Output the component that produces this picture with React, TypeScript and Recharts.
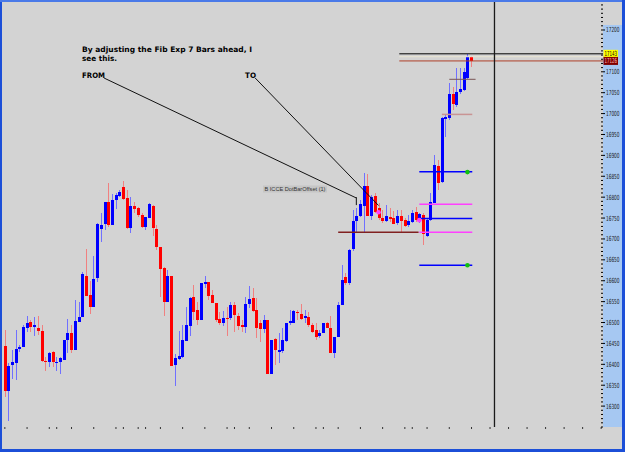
import { ComposedChart, Bar, XAxis, YAxis, ReferenceLine, ReferenceDot } from "recharts";

// bars, oldest first
const opens = [
  16444, 16337, 16398, 16404, 16436, 16442, 16488, 16502, 16490, 16488, 16480, 16409, 16405, 16430, 16402, 16406,
  16410, 16458, 16474, 16434, 16502, 16514, 16611, 16566, 16538, 16606, 16724, 16736, 16789, 16733, 16793, 16803,
  16825, 16799, 16725, 16779, 16773, 16757, 16728, 16751, 16779, 16724, 16681, 16631, 16550, 16611, 16398, 16412,
  16418, 16456, 16491, 16560, 16530, 16506, 16592, 16598, 16565, 16547, 16508, 16498, 16511, 16510, 16543, 16516,
  16495, 16490, 16544, 16558, 16530, 16499, 16484, 16507, 16377, 16460, 16430, 16432, 16456, 16498, 16500, 16524,
  16520, 16511, 16514, 16494, 16482, 16468, 16476, 16499, 16488, 16428, 16466, 16541, 16608, 16594, 16675, 16743,
  16755, 16779, 16826, 16755, 16803, 16773, 16751, 16743, 16753, 16749, 16737, 16755, 16745, 16733, 16741, 16765,
  16741, 16757, 16707, 16745, 16787, 16874, 16837, 16987, 16989, 17047, 17020, 17052, 17056, 17084, 17135,
];
const highs = [
  16483, 16402, 16434, 16482, 16446, 16494, 16516, 16506, 16514, 16515, 16494, 16418, 16430, 16432, 16418, 16418,
  16458, 16508, 16494, 16554, 16548, 16622, 16676, 16600, 16659, 16737, 16761, 16789, 16833, 16807, 16809, 16817,
  16839, 16817, 16801, 16789, 16777, 16761, 16753, 16787, 16781, 16733, 16681, 16633, 16625, 16611, 16424, 16480,
  16494, 16538, 16562, 16590, 16550, 16594, 16611, 16598, 16578, 16547, 16526, 16527, 16538, 16550, 16550, 16522,
  16506, 16562, 16587, 16582, 16558, 16507, 16518, 16507, 16458, 16462, 16474, 16486, 16498, 16530, 16530, 16530,
  16544, 16530, 16526, 16498, 16499, 16482, 16499, 16502, 16516, 16466, 16550, 16637, 16618, 16675, 16769, 16773,
  16793, 16857, 16855, 16805, 16811, 16785, 16769, 16781, 16773, 16768, 16769, 16769, 16749, 16757, 16769, 16777,
  16763, 16761, 16749, 16809, 16901, 16889, 16991, 16997, 17072, 17064, 17108, 17108, 17108, 17143, 17138,
];
const lows = [
  16322, 16265, 16364, 16362, 16430, 16442, 16478, 16478, 16468, 16470, 16406, 16385, 16394, 16394, 16385, 16378,
  16410, 16426, 16428, 16434, 16502, 16514, 16563, 16520, 16538, 16598, 16693, 16721, 16729, 16733, 16771, 16801,
  16793, 16723, 16715, 16761, 16753, 16725, 16721, 16750, 16707, 16673, 16562, 16516, 16550, 16397, 16349, 16410,
  16416, 16456, 16467, 16506, 16494, 16506, 16582, 16554, 16546, 16502, 16494, 16492, 16467, 16506, 16478, 16482,
  16478, 16474, 16534, 16526, 16462, 16454, 16474, 16377, 16377, 16398, 16404, 16428, 16454, 16494, 16498, 16506,
  16506, 16498, 16490, 16474, 16458, 16462, 16474, 16486, 16426, 16414, 16466, 16541, 16590, 16590, 16672, 16717,
  16753, 16717, 16755, 16745, 16763, 16745, 16737, 16741, 16741, 16735, 16733, 16717, 16729, 16729, 16739, 16741,
  16737, 16685, 16705, 16744, 16785, 16817, 16833, 16945, 16985, 17008, 17016, 17048, 17055, 17082, 17112,
];
const closes = [
  16337, 16397, 16406, 16436, 16441, 16490, 16498, 16490, 16494, 16480, 16409, 16406, 16428, 16406, 16406, 16414,
  16458, 16474, 16434, 16503, 16514, 16615, 16563, 16538, 16604, 16735, 16733, 16789, 16733, 16793, 16805, 16813,
  16795, 16725, 16779, 16772, 16757, 16728, 16753, 16783, 16725, 16680, 16628, 16550, 16611, 16397, 16416, 16420,
  16458, 16494, 16559, 16526, 16506, 16594, 16596, 16563, 16547, 16506, 16498, 16512, 16509, 16542, 16518, 16492,
  16490, 16544, 16556, 16528, 16486, 16485, 16506, 16377, 16458, 16434, 16434, 16458, 16498, 16503, 16527, 16522,
  16509, 16515, 16494, 16478, 16466, 16476, 16499, 16488, 16428, 16466, 16541, 16602, 16594, 16673, 16743, 16755,
  16783, 16826, 16755, 16801, 16765, 16749, 16743, 16756, 16747, 16736, 16755, 16743, 16731, 16744, 16763, 16745,
  16759, 16713, 16745, 16789, 16877, 16835, 16989, 16993, 17048, 17023, 17052, 17058, 17100, 17135, 17126,
];

const SLOTS = 162; // bars + empty space to the right
const xTicks = [0, 6, 12, 14, 18, 24, 30, 32, 36, 38, 42, 48, 54, 60, 62, 66, 72, 78, 84, 86, 90, 96, 102, 108, 110, 114, 120, 126, 131, 136, 141, 146, 151, 156, 161];
const majorTicks = [16300, 16350, 16400, 16450, 16500, 16550, 16600, 16650, 16700, 16750, 16800, 16850, 16900, 16950, 17000, 17050, 17100, 17200];
const markerLabels = [
  { value: 17143, fill: "#ffff00", text: "#000000" },
  { value: 17126, fill: "#800000", text: "#ffb8b8" },
];

// drawn objects on the chart, in bar index / price units
const levelLines = [
  { price: 17143, from: 106.5, to: 161.5, color: "#000000", w: 1 },
  { price: 17136, from: 106.5, to: 161.5, color: "#ebe5d2", w: 1 },
  { price: 17126, from: 106.5, to: 161.5, color: "#b0402a", w: 1 },
  { price: 17082, from: 120, to: 127.1, color: "#7a5656", w: 1 },
  { price: 16998, from: 118, to: 126.2, color: "#c99494", w: 1.5 },
  { price: 16861, from: 111.9, to: 126.2, color: "#0000ff", w: 1.5 },
  { price: 16783, from: 111.9, to: 126.2, color: "#ff40ff", w: 1.5 },
  { price: 16749, from: 111.9, to: 126.2, color: "#0000ff", w: 1.5 },
  { price: 16716, from: 90, to: 111.7, color: "#802020", w: 1.5 },
  { price: 16716, from: 111.9, to: 126.2, color: "#ff40ff", w: 1.5 },
  { price: 16637, from: 111.9, to: 126.2, color: "#0000ff", w: 1.5 },
];
const pointerLines = [
  { x1: 26.8, p1: 17085, x2: 94.9, p2: 16798 },
  { x1: 67.6, p1: 17085, x2: 100.9, p2: 16780 },
  { x1: 94.9, p1: 16800, x2: 94.9, p2: 16781 },
];
const dots = [
  { x: 100.9, p: 16764, color: "#ff40ff" },
  { x: 111.9, p: 16745, color: "#ff40ff" },
  { x: 124.9, p: 16860, color: "#10c010" },
  { x: 124.9, p: 16637, color: "#10c010" },
];
const cursorX = 132.2;

const minorTicks: number[] = [];
for (let v = 16250; v <= 17260; v += 10) if (!majorTicks.includes(v)) minorTicks.push(v);
const yTicks = [...minorTicks, ...majorTicks, ...markerLabels.map((m) => m.value)];

const data = Array.from({ length: SLOTS }, (_, i) =>
  i < opens.length
    ? { i, o: opens[i], h: highs[i], l: lows[i], c: closes[i], range: [lows[i], highs[i]] }
    : { i, range: null }
);

function Candle(props: any) {
  const { x, y, width, height, payload } = props;
  if (!payload || payload.o == null) return null;
  const { o, h, l, c } = payload;
  const top = Math.min(y, y + height);
  const bot = Math.max(y, y + height);
  const ppu = (bot - top) / (h - l || 1);
  const py = (v: number) => top + (h - v) * ppu;
  const up = c >= o;
  const cx = Math.round(x + width / 2) + 0.5;
  const bTop = py(Math.max(o, c));
  const bH = Math.max(1, py(Math.min(o, c)) - bTop);
  return (
    <g shapeRendering="crispEdges">
      <line x1={cx} x2={cx} y1={top} y2={bot} stroke={up ? "#7070ff" : "#f08080"} strokeWidth={1} />
      <rect x={cx - 1.5} y={bTop} width={3} height={bH} fill={up ? "#0000ff" : "#ff0000"} />
    </g>
  );
}

function PriceTick(props: any) {
  const { x, y, payload } = props;
  const v = payload.value;
  const mark = markerLabels.find((m) => m.value === v);
  const font = { fontFamily: "'Liberation Sans Narrow', 'DejaVu Sans Condensed', Arial, sans-serif", fontSize: 7 };
  if (mark) {
    return (
      <g>
        <rect x={x + 0.5} y={y - 4} width={14.5} height={8} fill={mark.fill} />
        <text x={x + 1.5} y={y + 2.5} fill={mark.text} textLength={12.5} lengthAdjust="spacingAndGlyphs" {...font}>
          {v}
        </text>
      </g>
    );
  }
  if (majorTicks.includes(v)) {
    return (
      <g>
        <line x1={x - 2} x2={x + 2} y1={y} y2={y} stroke="#000" strokeWidth={1} />
        <text x={x + 3} y={y + 2.5} fill="#1a1a1a" textLength={13.5} lengthAdjust="spacingAndGlyphs" {...font}>
          {v}
        </text>
      </g>
    );
  }
  return <line x1={x - 2} x2={x} y1={y} y2={y} stroke="#000" strokeWidth={1} />;
}

export default function App() {
  const bold = { fontFamily: "'DejaVu Sans', Verdana, sans-serif", fontSize: 7.5, fontWeight: 700, fill: "#000" };
  return (
    <div style={{ position: "absolute", left: 0, top: 0, width: 625, height: 452, background: "#d3d3d3", overflow: "hidden" }}>
      <style>{`body{margin:0}`}</style>
      <div style={{ position: "absolute", left: 603, top: 25, width: 19, height: 402, background: "#a6c8f2" }} />
      <div style={{ position: "absolute", left: 0, top: 0 }}>
        <ComposedChart width={625} height={452} data={data} margin={{ top: 2, right: 3, bottom: 22, left: 3 }}>
          <XAxis
            dataKey="i"
            type="category"
            ticks={xTicks}
            interval={0}
            height={3}
            axisLine={false}
            tickSize={2}
            tickLine={{ stroke: "#333" }}
            tickFormatter={() => ""}
          />
          <XAxis xAxisId="n" dataKey="i" type="number" domain={[-0.5, SLOTS - 0.5]} allowDataOverflow hide />
          <YAxis
            orientation="right"
            width={19}
            type="number"
            domain={[16250, 17267]}
            allowDataOverflow
            ticks={yTicks}
            interval={0}
            axisLine={false}
            tickLine={false}
            tickSize={0}
            tickMargin={0}
            tick={<PriceTick />}
          />
          <Bar dataKey="range" barSize={3} shape={<Candle />} isAnimationActive={false} />
          {levelLines.map((ln, k) => (
            <ReferenceLine
              key={"lv" + k}
              xAxisId="n"
              segment={[{ x: ln.from, y: ln.price }, { x: ln.to, y: ln.price }]}
              stroke={ln.color}
              strokeWidth={ln.w}
              ifOverflow="visible"
            />
          ))}
          {pointerLines.map((ln, k) => (
            <ReferenceLine
              key={"pt" + k}
              xAxisId="n"
              segment={[{ x: ln.x1, y: ln.p1 }, { x: ln.x2, y: ln.p2 }]}
              stroke="#111"
              strokeWidth={1}
              ifOverflow="visible"
            />
          ))}
          <ReferenceLine xAxisId="n" x={cursorX} stroke="#1a1a1a" strokeWidth={1.3} />
          {dots.map((d, k) => (
            <ReferenceDot key={"d" + k} xAxisId="n" x={d.x} y={d.p} r={2.3} fill={d.color} stroke="none" />
          ))}
        </ComposedChart>
      </div>
      <svg width={625} height={452} style={{ position: "absolute", left: 0, top: 0, pointerEvents: "none" }}>
        <text x={82} y={52} textLength={170} lengthAdjust="spacingAndGlyphs" {...bold}>
          By adjusting the Fib Exp 7 Bars ahead, I
        </text>
        <text x={82} y={61} textLength={35} lengthAdjust="spacingAndGlyphs" {...bold}>
          see this.
        </text>
        <text x={82} y={78} textLength={23} lengthAdjust="spacingAndGlyphs" {...bold}>
          FROM
        </text>
        <text x={245} y={78} textLength={11} lengthAdjust="spacingAndGlyphs" {...bold}>
          TO
        </text>
        <rect x={263} y={185.5} width={64} height={7} fill="#c6c6c6" />
        <text x={264.5} y={191} fill="#333" fontSize={5.8} fontFamily="Arial, sans-serif" textLength={61} lengthAdjust="spacingAndGlyphs">
          B ICCE DotBarOffset (1)
        </text>
        <rect x={0} y={0} width={2} height={452} fill="#1c4fd8" />
        <rect x={0} y={0} width={625} height={2} fill="#4a7ae8" />
        <rect x={622} y={0} width={3} height={452} fill="#1c4fd8" />
        <rect x={0} y={449} width={625} height={3} fill="#1c4fd8" />
      </svg>
    </div>
  );
}
